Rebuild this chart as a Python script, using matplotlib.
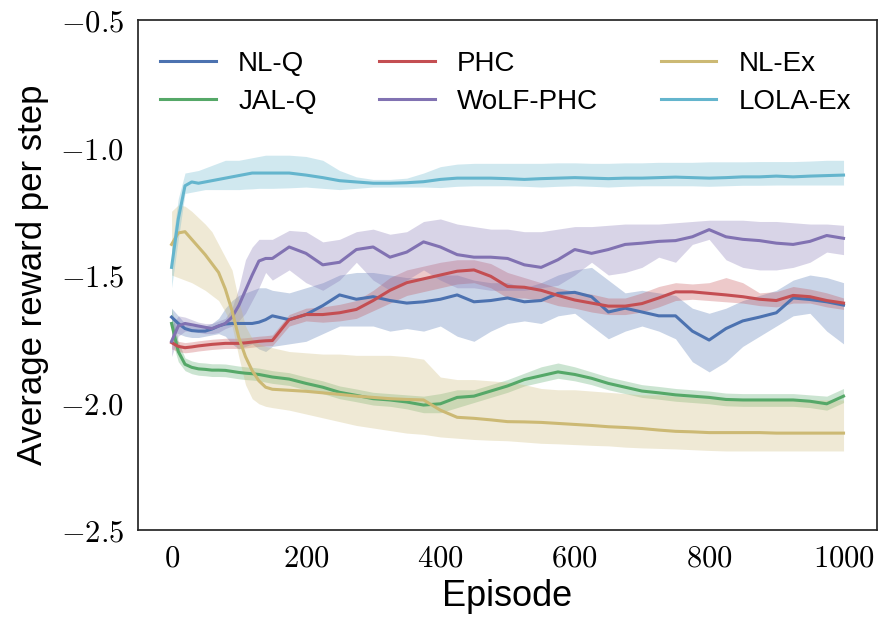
import matplotlib
matplotlib.use("Agg")
import matplotlib.pyplot as plt
from matplotlib.ticker import FuncFormatter

plt.rcParams['font.family'] = ['Liberation Sans', 'DejaVu Sans']
plt.rcParams['mathtext.fontset'] = 'cm'

episodes = [0, 10, 20, 30, 40, 50, 60, 70, 80, 90, 100, 110, 120, 130, 140,
            150, 175, 200, 225, 250, 275, 300, 325, 350, 375, 400, 425, 450,
            475, 500, 525, 550, 575, 600, 625, 650, 675, 700, 725, 750, 775,
            800, 825, 850, 875, 900, 925, 950, 975, 1000]

# mean curves
nlq_mean = [-1.665, -1.69, -1.71, -1.718, -1.72, -1.72, -1.712, -1.70, -1.692, -1.69,
            -1.69, -1.69, -1.69, -1.685, -1.675, -1.66, -1.675, -1.655, -1.62, -1.578,
            -1.595, -1.585, -1.60, -1.61, -1.605, -1.595, -1.578, -1.605, -1.60, -1.59,
            -1.605, -1.60, -1.572, -1.568, -1.585, -1.645, -1.63, -1.645, -1.66, -1.66,
            -1.72, -1.755, -1.71, -1.68, -1.665, -1.648, -1.59, -1.596, -1.605, -1.618]
jalq_mean = [-1.69, -1.80, -1.85, -1.862, -1.868, -1.87, -1.873, -1.873, -1.874, -1.878,
             -1.882, -1.885, -1.887, -1.89, -1.895, -1.90, -1.908, -1.925, -1.94, -1.96,
             -1.972, -1.985, -1.99, -1.998, -2.01, -2.005, -1.98, -1.975, -1.955, -1.935,
             -1.91, -1.895, -1.88, -1.89, -1.905, -1.925, -1.94, -1.955, -1.962, -1.97,
             -1.975, -1.98, -1.988, -1.99, -1.99, -1.99, -1.99, -1.995, -2.005, -1.975]
phc_mean = [-1.765, -1.78, -1.785, -1.782, -1.778, -1.775, -1.772, -1.77, -1.768, -1.768,
            -1.768, -1.766, -1.763, -1.76, -1.758, -1.757, -1.675, -1.655, -1.655, -1.648,
            -1.635, -1.60, -1.56, -1.53, -1.515, -1.50, -1.485, -1.48, -1.505, -1.545,
            -1.548, -1.56, -1.58, -1.598, -1.61, -1.622, -1.622, -1.612, -1.59, -1.566,
            -1.566, -1.572, -1.578, -1.585, -1.595, -1.60, -1.58, -1.585, -1.60, -1.61]
wolf_mean = [-1.76, -1.70, -1.69, -1.695, -1.70, -1.705, -1.71, -1.70, -1.69, -1.665,
             -1.62, -1.56, -1.50, -1.445, -1.435, -1.435, -1.39, -1.415, -1.46, -1.45,
             -1.40, -1.39, -1.43, -1.41, -1.37, -1.39, -1.42, -1.43, -1.43, -1.435,
             -1.46, -1.47, -1.44, -1.40, -1.415, -1.40, -1.38, -1.375, -1.368, -1.365,
             -1.35, -1.322, -1.35, -1.36, -1.365, -1.375, -1.38, -1.368, -1.345, -1.356]
nlex_mean = [-1.38, -1.335, -1.33, -1.36, -1.39, -1.42, -1.455, -1.49, -1.555, -1.64,
             -1.745, -1.82, -1.875, -1.915, -1.94, -1.948, -1.952, -1.956, -1.962, -1.968,
             -1.975, -1.98, -1.985, -1.988, -1.99, -2.03, -2.058, -2.062, -2.068, -2.075,
             -2.076, -2.078, -2.082, -2.086, -2.09, -2.095, -2.098, -2.102, -2.108, -2.113,
             -2.115, -2.118, -2.118, -2.118, -2.118, -2.12, -2.12, -2.12, -2.12, -2.12]
lola_mean = [-1.47, -1.28, -1.15, -1.135, -1.14, -1.135, -1.13, -1.125, -1.12, -1.115,
             -1.11, -1.105, -1.10, -1.10, -1.10, -1.10, -1.10, -1.108, -1.118, -1.13,
             -1.135, -1.14, -1.14, -1.138, -1.134, -1.125, -1.12, -1.12, -1.12, -1.122,
             -1.125, -1.122, -1.12, -1.118, -1.12, -1.122, -1.12, -1.12, -1.118, -1.116,
             -1.118, -1.12, -1.118, -1.115, -1.115, -1.112, -1.115, -1.112, -1.11, -1.108]

# shaded band edges
nlq_hi = [-1.63, -1.66, -1.69, -1.70, -1.70, -1.70, -1.69, -1.67, -1.63, -1.60,
          -1.58, -1.57, -1.56, -1.55, -1.55, -1.56, -1.57, -1.55, -1.53, -1.50,
          -1.49, -1.49, -1.50, -1.51, -1.51, -1.50, -1.50, -1.52, -1.53, -1.53,
          -1.55, -1.53, -1.50, -1.48, -1.47, -1.52, -1.57, -1.56, -1.57, -1.58,
          -1.63, -1.65, -1.63, -1.60, -1.58, -1.56, -1.52, -1.50, -1.51, -1.53]
nlq_lo = [-1.72, -1.73, -1.74, -1.745, -1.745, -1.74, -1.735, -1.73, -1.74, -1.77,
          -1.79, -1.78, -1.77, -1.79, -1.80, -1.78, -1.77, -1.76, -1.73, -1.70,
          -1.70, -1.70, -1.72, -1.71, -1.72, -1.70, -1.74, -1.76, -1.72, -1.69,
          -1.68, -1.69, -1.66, -1.65, -1.70, -1.75, -1.72, -1.70, -1.72, -1.75,
          -1.84, -1.88, -1.84, -1.78, -1.74, -1.70, -1.66, -1.65, -1.72, -1.77]
jalq_hi = [-1.63, -1.76, -1.825, -1.837, -1.843, -1.845, -1.848, -1.848, -1.849, -1.853,
           -1.857, -1.86, -1.862, -1.865, -1.87, -1.875, -1.883, -1.90, -1.915, -1.935,
           -1.947, -1.96, -1.965, -1.97, -1.975, -1.965, -1.95, -1.95, -1.93, -1.91,
           -1.885, -1.86, -1.845, -1.86, -1.88, -1.90, -1.915, -1.93, -1.937, -1.945,
           -1.95, -1.955, -1.963, -1.965, -1.965, -1.965, -1.965, -1.97, -1.975, -1.945]
jalq_lo = [-1.75, -1.84, -1.875, -1.887, -1.893, -1.895, -1.898, -1.898, -1.899, -1.903,
           -1.907, -1.91, -1.912, -1.915, -1.92, -1.925, -1.933, -1.95, -1.965, -1.985,
           -1.997, -2.01, -2.015, -2.025, -2.04, -2.04, -2.02, -2.0, -1.98, -1.96,
           -1.935, -1.92, -1.905, -1.915, -1.93, -1.95, -1.965, -1.98, -1.987, -1.995,
           -2.0, -2.005, -2.013, -2.015, -2.015, -2.015, -2.015, -2.02, -2.03, -2.0]
phc_hi = [-1.74, -1.76, -1.765, -1.762, -1.758, -1.755, -1.752, -1.75, -1.748, -1.748,
          -1.748, -1.746, -1.743, -1.74, -1.738, -1.735, -1.655, -1.63, -1.625, -1.615,
          -1.60, -1.56, -1.51, -1.48, -1.465, -1.45, -1.44, -1.44, -1.455, -1.49,
          -1.51, -1.53, -1.55, -1.565, -1.575, -1.59, -1.59, -1.57, -1.545, -1.53,
          -1.535, -1.53, -1.51, -1.53, -1.57, -1.565, -1.545, -1.555, -1.57, -1.59]
phc_lo = [-1.79, -1.80, -1.805, -1.802, -1.798, -1.795, -1.792, -1.79, -1.788, -1.788,
          -1.788, -1.786, -1.783, -1.78, -1.778, -1.777, -1.70, -1.68, -1.685, -1.68,
          -1.67, -1.64, -1.61, -1.58, -1.565, -1.55, -1.535, -1.53, -1.55, -1.59,
          -1.59, -1.60, -1.62, -1.63, -1.645, -1.655, -1.655, -1.645, -1.625, -1.60,
          -1.595, -1.60, -1.605, -1.61, -1.62, -1.625, -1.61, -1.61, -1.625, -1.635]
wolf_hi = [-1.70, -1.66, -1.665, -1.675, -1.685, -1.69, -1.69, -1.68, -1.67, -1.63,
           -1.55, -1.44, -1.39, -1.36, -1.36, -1.36, -1.325, -1.33, -1.37, -1.36,
           -1.33, -1.32, -1.34, -1.33, -1.29, -1.28, -1.30, -1.31, -1.32, -1.32,
           -1.33, -1.33, -1.32, -1.31, -1.31, -1.305, -1.30, -1.30, -1.30, -1.295,
           -1.29, -1.285, -1.285, -1.285, -1.29, -1.29, -1.295, -1.30, -1.30, -1.305]
wolf_lo = [-1.82, -1.74, -1.72, -1.72, -1.725, -1.73, -1.73, -1.725, -1.71, -1.70,
           -1.68, -1.65, -1.60, -1.55, -1.49, -1.52, -1.48, -1.53, -1.56, -1.52,
           -1.45, -1.52, -1.56, -1.52, -1.48, -1.52, -1.55, -1.55, -1.56, -1.56,
           -1.56, -1.55, -1.54, -1.50, -1.45, -1.50, -1.49, -1.47, -1.43, -1.45,
           -1.38, -1.36, -1.44, -1.47, -1.48, -1.48, -1.47, -1.45, -1.41, -1.42]
nlex_hi = [-1.25, -1.225, -1.23, -1.25, -1.275, -1.30, -1.33, -1.38, -1.43, -1.48,
           -1.60, -1.70, -1.75, -1.77, -1.78, -1.785, -1.80, -1.805, -1.81, -1.81,
           -1.815, -1.815, -1.815, -1.82, -1.83, -1.90, -1.91, -1.91, -1.915, -1.92,
           -1.93, -1.945, -1.95, -1.95, -1.955, -1.96, -1.965, -1.97, -1.97, -1.975,
           -1.98, -1.985, -1.985, -1.985, -1.99, -1.99, -1.99, -1.99, -1.99, -1.99]
nlex_lo = [-1.50, -1.51, -1.52, -1.53, -1.545, -1.56, -1.58, -1.60, -1.645, -1.70,
           -1.82, -1.93, -1.985, -2.005, -2.015, -2.02, -2.03, -2.045, -2.06, -2.075,
           -2.09, -2.10, -2.11, -2.12, -2.125, -2.135, -2.14, -2.145, -2.148, -2.15,
           -2.155, -2.16, -2.162, -2.165, -2.168, -2.17, -2.175, -2.178, -2.18, -2.182,
           -2.185, -2.188, -2.19, -2.19, -2.19, -2.19, -2.19, -2.19, -2.19, -2.19]
lola_hi = [-1.40, -1.20, -1.10, -1.095, -1.09, -1.08, -1.07, -1.06, -1.05, -1.05,
           -1.05, -1.045, -1.04, -1.035, -1.03, -1.03, -1.03, -1.035, -1.05, -1.09,
           -1.115, -1.125, -1.125, -1.12, -1.10, -1.075, -1.065, -1.062, -1.062, -1.062,
           -1.062, -1.062, -1.06, -1.06, -1.062, -1.062, -1.06, -1.06, -1.058, -1.058,
           -1.058, -1.056, -1.056, -1.056, -1.055, -1.055, -1.055, -1.053, -1.05, -1.05]
lola_lo = [-1.55, -1.36, -1.18, -1.175, -1.17, -1.165, -1.165, -1.165, -1.165, -1.165,
           -1.165, -1.163, -1.162, -1.16, -1.16, -1.16, -1.158, -1.155, -1.16, -1.165,
           -1.16, -1.155, -1.155, -1.155, -1.155, -1.157, -1.152, -1.15, -1.15, -1.15,
           -1.152, -1.155, -1.152, -1.15, -1.152, -1.155, -1.152, -1.15, -1.15, -1.15,
           -1.15, -1.152, -1.15, -1.148, -1.148, -1.147, -1.147, -1.147, -1.147, -1.147]

labels = ['NL-Q', 'JAL-Q', 'PHC', 'WoLF-PHC', 'NL-Ex', 'LOLA-Ex']
colors = ['#4C72B0', '#55A868', '#C44E52', '#8172B2', '#CCB974', '#64B5CD']

series = [
    (nlq_mean, nlq_lo, nlq_hi),
    (jalq_mean, jalq_lo, jalq_hi),
    (phc_mean, phc_lo, phc_hi),
    (wolf_mean, wolf_lo, wolf_hi),
    (nlex_mean, nlex_lo, nlex_hi),
    (lola_mean, lola_lo, lola_hi),
]

fig = plt.figure(figsize=(8.81, 6.17), dpi=100)
ax = fig.add_axes([0.1566, 0.141, 0.839, 0.8265])

for (mean, lo, hi), lab, c in zip(series, labels, colors):
    ax.fill_between(episodes, lo, hi, color=c, alpha=0.3, linewidth=0)
    ax.plot(episodes, mean, color=c, linewidth=2.2, label=lab)

ax.set_xlim(-50, 1050)
ax.set_ylim(-2.5, -0.5)
ax.set_xticks([0, 200, 400, 600, 800, 1000])
ax.set_yticks([-2.5, -2.0, -1.5, -1.0, -0.5])
ax.xaxis.set_major_formatter(FuncFormatter(lambda v, p: r'$%d$' % v))
ax.yaxis.set_major_formatter(FuncFormatter(lambda v, p: r'$%.1f$' % v))
ax.tick_params(length=0, labelsize=22, pad=10)

for s in ax.spines.values():
    s.set_color('#262626')
    s.set_linewidth(1.25)

ax.set_xlabel('Episode', fontsize=26, labelpad=4)
ax.set_ylabel('Average reward per step', fontsize=25, labelpad=8)

ax.legend(loc='upper left', bbox_to_anchor=(-0.011, 1.0), ncol=3,
          frameon=False, fontsize=20, labelspacing=0.45, handlelength=2.0,
          handletextpad=0.8, columnspacing=2.25, borderaxespad=0.7)

fig.savefig('out.png', dpi=100, facecolor='white')
